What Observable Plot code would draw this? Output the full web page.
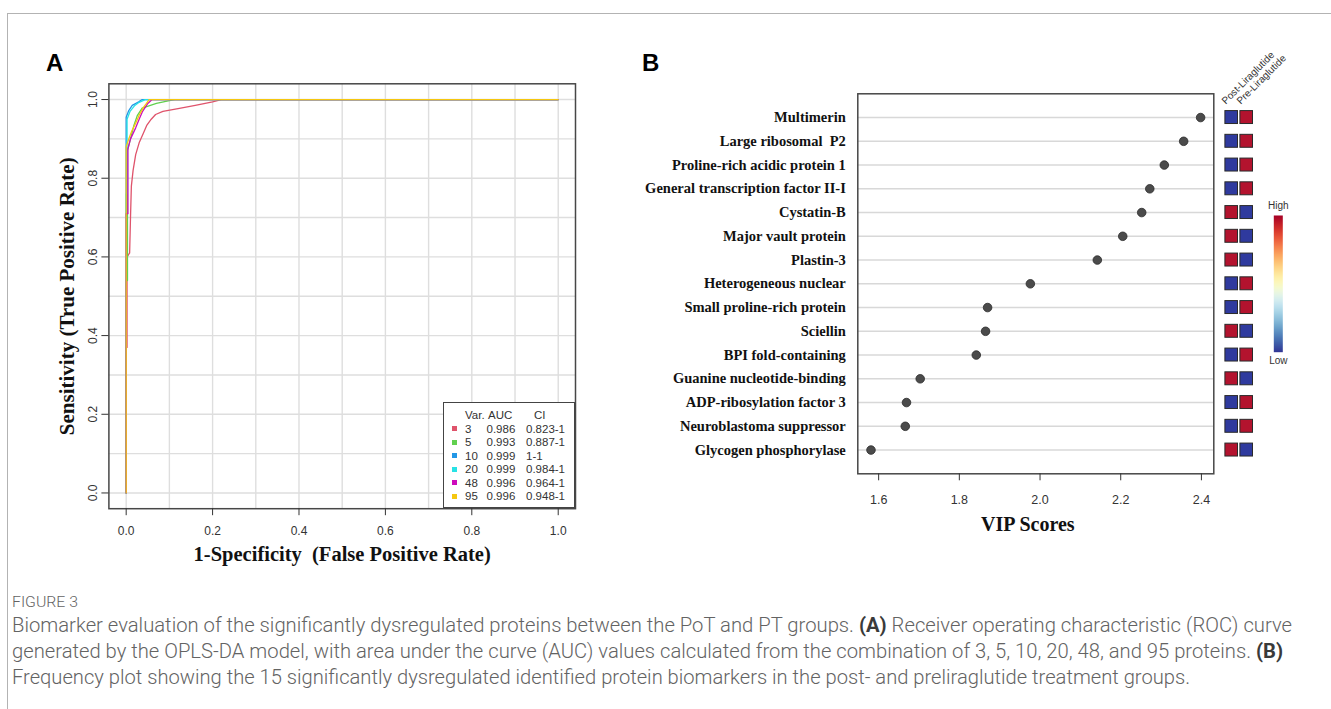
<!DOCTYPE html>
<html>
<head>
<meta charset="utf-8">
<script src="https://cdn.jsdelivr.net/npm/d3@7"></script>
<script src="https://cdn.jsdelivr.net/npm/@observablehq/plot@0.6"></script>
<style>
  body { margin: 0; background: #fff; }
  #page { position: relative; width: 1331px; height: 709px; overflow: hidden; background: #fff;
          font-family: "Liberation Sans", Arial, sans-serif; }
  #frame { position: absolute; left: 7px; top: 13px; width: 1330px; height: 700px;
           border-top: 1px solid #b3b3b3; border-left: 1px solid #b3b3b3; }
  .abs { position: absolute; }
  .plabel { position: absolute; font: bold 24px "Liberation Sans", Arial, sans-serif; color: #000; line-height: 24px; }
  #legendA { position: absolute; left: 443px; top: 402px; width: 130px; height: 104px;
             border: 1.5px solid #444; background: #fff; font: 11.5px "Liberation Sans", Arial, sans-serif; color: #333; }
  #legendA span { position: absolute; line-height: 14px; white-space: pre; }
  #legendA i { position: absolute; width: 5px; height: 5px; }
  .cap { position: absolute; left: 12px; font-family: Roboto, "Noto Sans", sans-serif; font-weight: 300; color: #636363; white-space: nowrap;
         transform-origin: 0 50%; }
  .cap b { color: #3a3a3a; font-weight: 700; }
</style>
</head>
<body>
<div id="page">
  <div id="frame"></div>
  <div class="plabel" style="left:46px; top:51px;">A</div>
  <div class="plabel" style="left:642px; top:51px;">B</div>
</div>
<script>
// ---------------- Panel A data (ROC curves) ----------------
const rocSeries = ["3", "5", "10", "20", "48", "95"];
const rocColors = ["#DF536B", "#61D04F", "#2297E6", "#28E2E5", "#CD0BBC", "#F5C710"];
const rocAUC = ["0.986", "0.993", "0.999", "0.999", "0.996", "0.996"];
const rocCI = ["0.823-1", "0.887-1", "1-1", "0.984-1", "0.964-1", "0.948-1"];
const roc3 = [[0,0],[0,0.37],[0.002,0.37],[0.002,0.60],[0.008,0.61],[0.01,0.70],[0.012,0.78],[0.016,0.82],[0.022,0.86],[0.03,0.89],[0.04,0.915],[0.048,0.935],[0.058,0.95],[0.068,0.962],[0.085,0.97],[0.12,0.977],[0.16,0.985],[0.2,0.994],[0.22,1],[1,1]];
const roc5 = [[0,0],[0,0.54],[0.003,0.54],[0.003,0.87],[0.01,0.9],[0.018,0.935],[0.026,0.96],[0.037,0.978],[0.07,0.99],[0.1,0.997],[0.113,1],[1,1]];
const roc10 = [[0,0],[0,0.955],[0.006,0.972],[0.014,0.985],[0.029,0.994],[0.037,1],[1,1]];
const roc20 = [[0,0],[0,0.76],[0.002,0.76],[0.002,0.95],[0.009,0.97],[0.02,0.985],[0.03,0.993],[0.044,1],[1,1]];
const roc48 = [[0,0],[0,0.71],[0.004,0.71],[0.004,0.875],[0.01,0.9],[0.022,0.928],[0.03,0.95],[0.038,0.97],[0.05,0.99],[0.06,1],[1,1]];
const roc95 = [[0,0],[0,0.88],[0.006,0.9],[0.013,0.92],[0.022,0.94],[0.03,0.96],[0.04,0.98],[0.047,0.99],[0.053,1],[1,1]];
const rocPoints = [roc3, roc5, roc10, roc20, roc48, roc95];
const rocTicks = [0, 0.2, 0.4, 0.6, 0.8, 1.0];
const rocGrid = [0, 0.1, 0.2, 0.3, 0.4, 0.5, 0.6, 0.7, 0.8, 0.9, 1.0];

// ---------------- Panel B data (VIP scores) ----------------
const proteins = ["Multimerin", "Large ribosomal  P2", "Proline-rich acidic protein 1", "General transcription factor II-I",
  "Cystatin-B", "Major vault protein", "Plastin-3", "Heterogeneous nuclear", "Small proline-rich protein", "Sciellin",
  "BPI fold-containing", "Guanine nucleotide-binding", "ADP-ribosylation factor 3", "Neuroblastoma suppressor", "Glycogen phosphorylase"];
const vipScores = [2.398, 2.356, 2.308, 2.272, 2.252, 2.205, 2.142, 1.976, 1.870, 1.865, 1.842, 1.703, 1.669, 1.666, 1.581];
const vipTicks = [1.6, 1.8, 2.0, 2.2, 2.4];
const groups = ["Post-Liraglutide", "Pre-Liraglutide"];
const postLevel = ["Low","Low","Low","Low","High","High","High","Low","Low","High","Low","High","Low","Low","High"];
const preLevel  = ["High","High","High","High","Low","Low","Low","High","High","Low","High","Low","High","High","Low"];
const levelColors = ["#2f3a9e", "#b3132e"];

// ---------------- Caption ----------------
const captionHead = "FIGURE 3";
const captionLines = [
  'Biomarker evaluation of the significantly dysregulated proteins between the PoT and PT groups. <b>(A)</b> Receiver operating characteristic (ROC) curve',
  'generated by the OPLS-DA model, with area under the curve (AUC) values calculated from the combination of 3, 5, 10, 20, 48, and 95 proteins. <b>(B)</b>',
  'Frequency plot showing the 15 significantly dysregulated identified protein biomarkers in the post- and preliraglutide treatment groups.'
];
const captionWidths = [1280, 1271, 1178];
const captionHeadWidth = 66;

const page = document.getElementById("page");
function place(el, left, top) {
  const d = document.createElement("div");
  d.className = "abs"; d.style.left = left + "px"; d.style.top = top + "px";
  d.appendChild(el); page.appendChild(d); return d;
}
const baseStyle = { background: "transparent", overflow: "visible", fontFamily: "Liberation Sans, Arial, sans-serif", color: "#333", whiteSpace: "pre" };
const serif = "Liberation Serif, Times New Roman, serif";

// ---------------- Panel A ----------------
const rocTable = rocSeries.flatMap((s, i) => rocPoints[i].map(([fpr, tpr]) => ({ series: s, fpr, tpr })));
const aLeft = 30, aTop = 75, aW = 560, aH = 505;
const plotA = Plot.plot({
  width: aW, height: aH,
  marginLeft: 108.4 - aLeft, marginRight: aW - (575 - aLeft), marginTop: 83.3 - aTop, marginBottom: aH - (508.2 - aTop),
  x: { domain: [-0.04, 1.04], axis: null },
  y: { domain: [-0.04, 1.04], axis: null },
  color: { domain: rocSeries, range: rocColors },
  style: baseStyle,
  marks: [
    Plot.gridX(rocGrid, { stroke: "#dedede", strokeOpacity: 1, strokeWidth: 1.4 }),
    Plot.gridY(rocGrid, { stroke: "#dedede", strokeOpacity: 1, strokeWidth: 1.4 }),
    Plot.line(rocTable, { x: "fpr", y: "tpr", z: "series", stroke: "series", strokeWidth: 1.3 }),
    Plot.frame({ stroke: "#474747", strokeWidth: 1.5 }),
    Plot.axisX({ ticks: rocTicks, tickSize: 7, tickPadding: 11, tickFormat: d3.format(".1f"), fontSize: 12, label: null, color: "#333" }),
    Plot.axisY({ ticks: rocTicks, tickSize: 7, tickPadding: 5, tickRotate: -90, tickFormat: d3.format(".1f"), fontSize: 12, label: null, color: "#333" }),
    Plot.text(["1-Specificity  (False Positive Rate)"], { frameAnchor: "bottom", dy: 52, fontSize: 20.5, fontWeight: "bold", fontFamily: serif, fill: "#111" }),
    Plot.text(["Sensitivity (True Positive Rate)"], { frameAnchor: "left", textAnchor: "middle", rotate: -90, dx: -42, fontSize: 21, fontWeight: "bold", fontFamily: serif, fill: "#111" })
  ]
});
place(plotA, aLeft, aTop);

// legend of panel A
const leg = document.createElement("div");
leg.id = "legendA";
function span(txt, x, y) { const s = document.createElement("span"); s.textContent = txt; s.style.left = x + "px"; s.style.top = y + "px"; leg.appendChild(s); }
const legTop = 5;
span("Var.", 21, legTop); span("AUC", 44, legTop); span("CI", 90, legTop);
rocSeries.forEach((s, i) => {
  const y = legTop + 13.5 * (i + 1);
  const sw = document.createElement("i");
  sw.style.left = "8px"; sw.style.top = (y + 4.5) + "px"; sw.style.background = rocColors[i];
  leg.appendChild(sw);
  span(s, 21, y); span(rocAUC[i], 42.5, y); span(rocCI[i], 82, y);
});
page.appendChild(leg);

// ---------------- Panel B ----------------
const vipTable = proteins.map((p, i) => ({ protein: p, vip: vipScores[i] }));
const [vmin, vmax] = d3.extent(vipScores);
const vpad = (vmax - vmin) * 0.04;
const bLeft = 630, bTop = 85, bW = 590, bH = 460;
const plotB = Plot.plot({
  width: bW, height: bH,
  marginLeft: 857.3 - bLeft, marginRight: bW - (1213.3 - bLeft), marginTop: 93.3 - bTop, marginBottom: bH - (473.3 - bTop),
  x: { domain: [vmin - vpad, vmax + vpad], axis: null },
  y: { type: "point", domain: proteins, padding: 1, round: false, axis: null },
  style: baseStyle,
  marks: [
    Plot.gridY(proteins, { stroke: "#d8d8d8", strokeOpacity: 1, strokeWidth: 1.5 }),
    Plot.frame({ stroke: "#474747", strokeWidth: 1.5 }),
    Plot.dot(vipTable, { x: "vip", y: "protein", r: 4.3, fill: "#4b4b4b", stroke: "#2a2a2a", strokeWidth: 0.8 }),
    Plot.axisX({ ticks: vipTicks, tickSize: 7, tickPadding: 14, tickFormat: d3.format(".1f"), fontSize: 12.5, label: null, color: "#333" }),
    Plot.text(proteins, { y: d => d, frameAnchor: "left", textAnchor: "end", dx: -12, fontSize: 14.5, fontWeight: "bold", fontFamily: serif, fill: "#111" }),
    Plot.text(["VIP Scores"], { frameAnchor: "bottom", dy: 57, dx: -8, fontSize: 20, fontWeight: "bold", fontFamily: serif, fill: "#111" })
  ]
});
place(plotB, bLeft, bTop);

// heatmap squares
const heatTable = proteins.flatMap((p, i) => [
  { protein: p, group: groups[0], level: postLevel[i] },
  { protein: p, group: groups[1], level: preLevel[i] }
]);
const hLeft = 1218, hTop = 40, hW = 48, hH = 505;
const plotH = Plot.plot({
  width: hW, height: hH,
  marginLeft: 1223.7 - hLeft, marginRight: hW - (1253.7 - hLeft), marginTop: 93.3 - hTop, marginBottom: hH - (473.3 - hTop),
  x: { type: "band", domain: groups, padding: 0, round: false, axis: null },
  y: { type: "band", domain: proteins, paddingInner: 0, paddingOuter: 0.5, round: false, axis: null },
  color: { domain: ["Low", "High"], range: levelColors },
  style: baseStyle,
  marks: [
    Plot.cell(heatTable, { x: "group", y: "protein", fill: "level", stroke: "#2a2a2a", strokeWidth: 1,
      insetLeft: 1.2, insetRight: 1.2, insetTop: 5.4, insetBottom: 5.4 }),
    Plot.text(groups, { x: d => d, frameAnchor: "top", rotate: -45, textAnchor: "start", lineAnchor: "bottom",
      dx: -6, dy: 11, fontSize: 10, fill: "#333" })
  ]
});
place(plotH, hLeft, hTop);

// color ramp legend
const gLeft = 1262, gTop = 188, gW = 34, gH = 190;
const rampMark = Plot.raster
  ? Plot.raster({ fill: (x, y) => y, x1: 0, x2: 1, y1: 0, y2: 1, imageRendering: "auto" })
  : Plot.rect(d3.range(0, 1, 0.01), { x1: 0, x2: 1, y1: d => d, y2: d => d + 0.01, fill: d => d });
const plotG = Plot.plot({
  width: gW, height: gH,
  marginLeft: 1273.3 - gLeft, marginRight: gW - (1282.3 - gLeft), marginTop: 215 - gTop, marginBottom: gH - (351.7 - gTop),
  x: { domain: [0, 1], axis: null },
  y: { domain: [0, 1], axis: null },
  color: { type: "linear", scheme: "RdYlBu", reverse: true, domain: [0, 1] },
  style: baseStyle,
  marks: [
    rampMark,
    Plot.text(["High"], { frameAnchor: "top", dy: -14, fontSize: 10, fill: "#333" }),
    Plot.text(["Low"], { frameAnchor: "bottom", dy: 12, fontSize: 10, fill: "#333" })
  ]
});
place(plotG, gLeft, gTop);

// ---------------- Caption ----------------
function fitWidth(el, target) {
  const w = el.getBoundingClientRect().width;
  if (w > 0) el.style.transform = `scaleX(${target / w})`;
}
const head = document.createElement("div");
head.className = "cap"; head.style.top = "594px"; head.style.fontSize = "14px"; head.style.lineHeight = "16px";
head.textContent = captionHead;
page.appendChild(head);
fitWidth(head, captionHeadWidth);
captionLines.forEach((t, i) => {
  const d = document.createElement("div");
  d.className = "cap"; d.style.top = (613 + 26 * i) + "px"; d.style.fontSize = "19.5px"; d.style.lineHeight = "26px";
  d.innerHTML = t;
  page.appendChild(d);
  fitWidth(d, captionWidths[i]);
});
</script>
</body>
</html>
